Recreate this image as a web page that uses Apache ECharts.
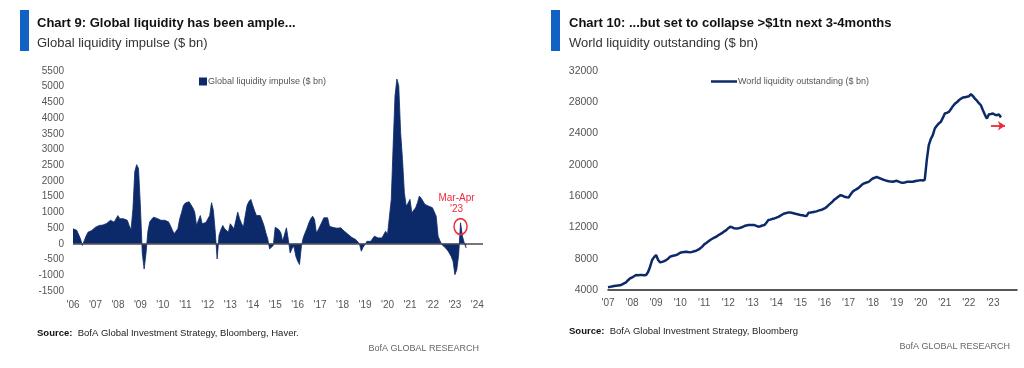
<!DOCTYPE html>
<html><head><meta charset="utf-8">
<script src="https://cdn.jsdelivr.net/npm/echarts@6/dist/echarts.min.js"></script>
<style>html,body{margin:0;padding:0;background:#fff}#c{width:1024px;height:368px}</style>
</head><body><div id="c"></div>
<script>
// ---------- data ----------
// Chart 9: monthly global liquidity impulse ($ bn), Jan 2006 .. Jul 2023
const impulseValues = [
  480, 480, 430, 370, 160, -50, 100, 250, 370, 400, 425, 480,        // 2006
  530, 560, 585, 590, 600, 620, 650, 690, 750, 800, 690, 800,        // 2007
  900, 800, 745, 800, 850, 750, 585, 450, 1100, 2300, 2520, 2400,    // 2008
  1200, -300, -800, -300, 400, 700, 780, 850, 830, 810, 800, 750,    // 2009
  690, 750, 800, 700, 585, 450, 320, 400, 480, 800, 1000, 1225,      // 2010
  1300, 1350, 1340, 1310, 1150, 1010, 585, 750, 900, 640, 660, 680,  // 2011
  690, 900, 1310, 1060, 370, -480, 270, 450, 585, 480, 420, 370,     // 2012
  640, 560, 480, 750, 1010, 800, 650, 530, 900, 1225, 1350, 1415,    // 2013
  1225, 1050, 900, 900, 900, 750, 585, 350, 160, -160, -100, -50,    // 2014
  530, 560, 450, 350, 85, 300, 510, 140, -290, -150, -75, -390,      // 2015
  -550, -660, -75, 200, 350, 500, 670, 800, 880, 780, 350, 450,      // 2016
  510, 700, 830, 830, 830, 560, 530, 520, 510, 500, 510, 510,        // 2017
  450, 400, 350, 300, 245, 200, 160, 140, 85, 0, -235, -100,         // 2018
  -20, 80, 140, 80, 30, 245, 220, 190, 190, 190, 190, 400,           // 2019
  300, 350, 1415, 3120, 4710, 5245, 5030, 3540, 2690, 1630, 1200, 1300, // 2020
  1415, 990, 990, 1150, 1310, 1520, 1450, 1415, 1255, 1200, 1200, 1200, // 2021
  1150, 1095, 880, 245, 100, -20, -80, -130, -200, -290, -400, -550, // 2022
  -980, -820, -350, 670, 245, 30, -130                                 // 2023
];
// Chart 10: monthly world liquidity outstanding ($ bn), Jan 2007 .. May 2023
const outstandingValues = [
  4340, 4400, 4460, 4510, 4540, 4570, 4600, 4700, 4850, 4980, 5250, 5490,           // 2007
  5600, 5760, 5920, 5900, 5920, 5920, 5900, 5920, 6300, 6980, 7830, 8200,           // 2008
  8470, 7830, 7530, 7600, 7700, 7830, 8000, 8260, 8350, 8400, 8470, 8600,           // 2009
  8770, 8820, 8860, 8900, 8850, 8810, 8880, 8950, 9020, 9150, 9320, 9550,           // 2010
  9830, 10000, 10200, 10390, 10550, 10700, 10810, 11000, 11150, 11300, 11500, 11660, // 2011
  11900, 12090, 12000, 11880, 11850, 11880, 11950, 12050, 12180, 12250, 12300, 12300, // 2012
  12300, 12300, 12200, 12090, 12150, 12250, 12300, 12600, 12940, 13000, 13100, 13150, // 2013
  13250, 13360, 13500, 13650, 13790, 13850, 13920, 13900, 13850, 13790, 13720, 13660, // 2014
  13600, 13550, 13490, 13450, 13870, 13900, 13950, 14000, 14050, 14150, 14220, 14300, // 2015
  14430, 14600, 14850, 15070, 15300, 15580, 15750, 15950, 16130, 16050, 15920, 15850, // 2016
  15830, 16200, 16550, 16750, 16900, 17060, 17300, 17530, 17650, 17750, 17830, 18050, // 2017
  18260, 18350, 18470, 18350, 18250, 18130, 18050, 17960, 17900, 17870, 17830, 17900, // 2018
  17960, 17850, 17750, 17700, 17750, 17830, 17830, 17830, 17830, 17900, 17960, 18000, // 2019
  18050, 18000, 18100, 20600, 22520, 23300, 23800, 24650, 25000, 25300, 25500, 26000, // 2020
  26560, 26650, 26770, 27100, 27500, 27800, 28000, 28260, 28450, 28600, 28650, 28700, // 2021
  28770, 29030, 28800, 28470, 28200, 27900, 27620, 26990, 26400, 25920, 26470, 26500, // 2022
  26560, 26400, 26350, 26450, 26050                                                  // 2023
];
// axis spans (first month, last month) and tick settings
const impulseAxisStart = [2006, 1], impulseAxisEnd = [2024, 4];
const outstandingAxisStart = [2007, 1], outstandingAxisEnd = [2024, 1];
const impulseTicks = [-1500, 5500, 500];
const outstandingTicks = [4000, 32000, 4000];
const hiddenYearLabels = ['2024-01'];      // not labelled on chart 10
// annotations
const impulseNote = { month: '2023-04', value: 550, text: "Mar-Apr\n'23" };
const outstandingArrow = [['2022-12', 25000], ['2023-07', 25000]];

const impulseName = 'Global liquidity impulse ($ bn)';
const outstandingName = 'World liquidity outstanding ($ bn)';

// ---------- helpers ----------
function monthList(start, end) {
  const out = [];
  for (let y = start[0]; y <= end[0]; y++) {
    for (let m = 1; m <= 12; m++) {
      if (y === start[0] && m < start[1]) continue;
      if (y === end[0] && m > end[1]) break;
      out.push(y + '-' + String(m).padStart(2, '0'));
    }
  }
  return out;
}
const impulseMonths = monthList(impulseAxisStart, impulseAxisEnd);
const outstandingMonths = monthList(outstandingAxisStart, outstandingAxisEnd);

const FONT = '"Liberation Sans", Arial, Helvetica, sans-serif';
const NAVY = '#0c2a6a';
const BLUE = '#1261c4';
const RED = '#ee2a3c';
const GREY = '#555';

const yearFmt = v => "'" + v.slice(2, 4);
const plainFmt = v => String(v);

const chart = echarts.init(document.getElementById('c'), null, { renderer: 'canvas' });

chart.setOption({
  animation: false,
  backgroundColor: '#fff',
  textStyle: { fontFamily: FONT },
  grid: [
    { left: 73, right: 541, top: 71, bottom: 77 },
    { left: 608, right: 7, top: 71, bottom: 78 }
  ],
  xAxis: [
    {
      gridIndex: 0, type: 'category', data: impulseMonths, boundaryGap: false,
      axisLine: { show: false }, axisTick: { show: false },
      axisLabel: { interval: (i, v) => v.endsWith('-01'), formatter: yearFmt, color: GREY, fontSize: 10, margin: 9, fontFamily: FONT },
      splitLine: { show: false }
    },
    {
      gridIndex: 1, type: 'category', data: outstandingMonths, boundaryGap: false,
      axisLine: { show: true, lineStyle: { color: '#222', width: 1.5 } }, axisTick: { show: false },
      axisLabel: { interval: (i, v) => v.endsWith('-01') && hiddenYearLabels.indexOf(v) < 0, formatter: yearFmt, color: GREY, fontSize: 10, margin: 8, fontFamily: FONT },
      splitLine: { show: false }
    }
  ],
  yAxis: [
    {
      gridIndex: 0, type: 'value', min: impulseTicks[0], max: impulseTicks[1], interval: impulseTicks[2],
      axisLine: { show: false }, axisTick: { show: false }, splitLine: { show: false },
      axisLabel: { formatter: plainFmt, color: GREY, fontSize: 10, margin: 9, fontFamily: FONT }
    },
    {
      gridIndex: 1, type: 'value', min: outstandingTicks[0], max: outstandingTicks[1], interval: outstandingTicks[2],
      axisLine: { show: false }, axisTick: { show: false }, splitLine: { show: false },
      axisLabel: { formatter: plainFmt, color: GREY, fontSize: 10.5, margin: 10, fontFamily: FONT }
    }
  ],
  legend: [
    {
      data: [{ name: impulseName, icon: 'rect' }], left: 199, top: 77, padding: 0,
      itemWidth: 8, itemHeight: 8, selectedMode: false,
      textStyle: { fontSize: 9, color: GREY, fontFamily: FONT, padding: [0, 0, 0, -4] }
    },
    {
      data: [{ name: outstandingName, icon: 'rect' }], left: 711, top: 77, padding: 0,
      itemWidth: 26, itemHeight: 2.5, selectedMode: false,
      textStyle: { fontSize: 9, color: GREY, fontFamily: FONT, padding: [0, 0, 0, -4] }
    }
  ],
  series: [
    {
      name: impulseName, type: 'line', xAxisIndex: 0, yAxisIndex: 0,
      data: impulseValues, symbol: 'none', showSymbol: false,
      lineStyle: { width: 0.8, color: NAVY }, itemStyle: { color: NAVY },
      areaStyle: { color: NAVY, opacity: 1 },
      markLine: {
        silent: true, symbol: 'none', label: { show: false },
        lineStyle: { color: '#4a4a4a', width: 1.5, type: 'solid' },
        data: [{ yAxis: 0 }]
      },
      markPoint: {
        silent: true, symbol: 'circle', symbolSize: [13, 16],
        itemStyle: { color: 'rgba(0,0,0,0)', borderColor: RED, borderWidth: 1.6 },
        label: {
          show: true, position: 'top', distance: 3, offset: [-4, 0],
          formatter: impulseNote.text, color: RED, fontSize: 10, lineHeight: 11, fontFamily: FONT, align: 'center'
        },
        data: [{ coord: [impulseNote.month, impulseNote.value] }]
      }
    },
    {
      name: outstandingName, type: 'line', xAxisIndex: 1, yAxisIndex: 1,
      data: outstandingValues, symbol: 'none', showSymbol: false,
      lineStyle: { width: 2.5, color: NAVY }, itemStyle: { color: NAVY },
      markLine: {
        silent: true, symbol: ['none', 'arrow'], symbolSize: 7, label: { show: false },
        lineStyle: { color: RED, width: 1.8, type: 'solid' },
        data: [[{ coord: outstandingArrow[0] }, { coord: outstandingArrow[1] }]]
      }
    }
  ],
  graphic: [
    { type: 'rect', shape: { x: 20, y: 10, width: 9, height: 41 }, style: { fill: BLUE } },
    { type: 'text', x: 37, y: 23, style: { text: 'Chart 9: Global liquidity has been ample...', font: 'bold 13px ' + FONT, fill: '#111', verticalAlign: 'middle' } },
    { type: 'text', x: 37, y: 43, style: { text: 'Global liquidity impulse ($ bn)', font: '13px ' + FONT, fill: '#333', verticalAlign: 'middle' } },
    { type: 'text', x: 37, y: 333, style: { text: '{b|Source:}  BofA Global Investment Strategy, Bloomberg, Haver.', font: '9.5px ' + FONT, fill: '#222', verticalAlign: 'middle', rich: { b: { fontWeight: 'bold', fontSize: 9.5, fontFamily: FONT, fill: '#111' } } } },
    { type: 'text', x: 479, y: 349, style: { text: 'BofA GLOBAL RESEARCH', font: '9px ' + FONT, fill: '#666', align: 'right', verticalAlign: 'middle' } },

    { type: 'rect', shape: { x: 551, y: 10, width: 9, height: 41 }, style: { fill: BLUE } },
    { type: 'text', x: 569, y: 23, style: { text: 'Chart 10: ...but set to collapse >$1tn next 3-4months', font: 'bold 13px ' + FONT, fill: '#111', verticalAlign: 'middle' } },
    { type: 'text', x: 569, y: 43, style: { text: 'World liquidity outstanding ($ bn)', font: '13px ' + FONT, fill: '#333', verticalAlign: 'middle' } },
    { type: 'text', x: 569, y: 331, style: { text: '{b|Source:}  BofA Global Investment Strategy, Bloomberg', font: '9.5px ' + FONT, fill: '#222', verticalAlign: 'middle', rich: { b: { fontWeight: 'bold', fontSize: 9.5, fontFamily: FONT, fill: '#111' } } } },
    { type: 'text', x: 1010, y: 347, style: { text: 'BofA GLOBAL RESEARCH', font: '9px ' + FONT, fill: '#666', align: 'right', verticalAlign: 'middle' } }
  ]
});
</script>
</body></html>
